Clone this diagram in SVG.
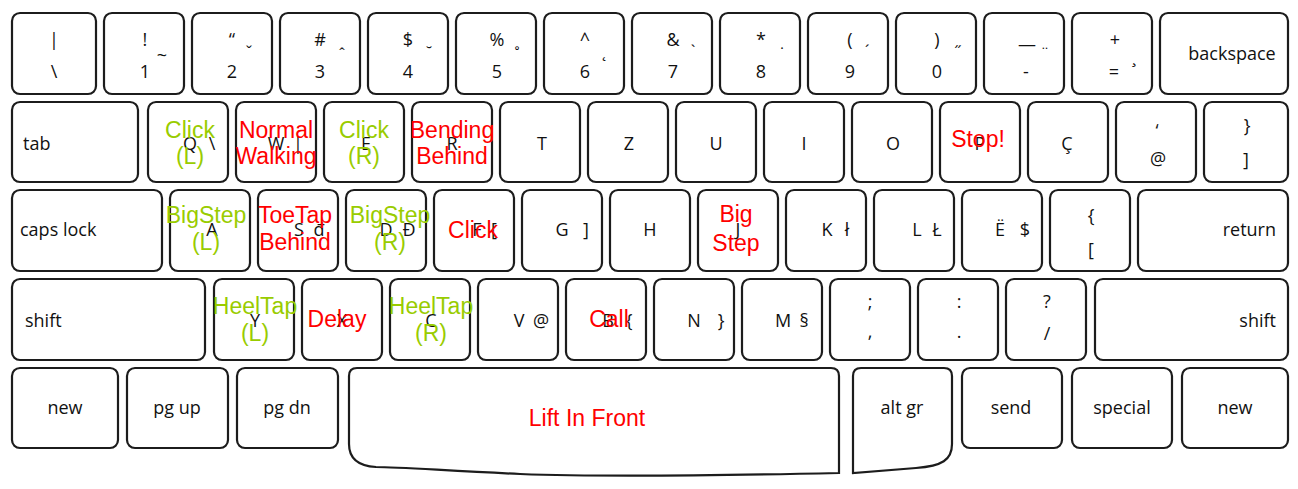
<svg xmlns="http://www.w3.org/2000/svg" width="1298" height="489" viewBox="0 0 1298 489">
<style>
.k{fill:#fff;stroke:#1c1c1c;stroke-width:2.2}
text{font-family:"Open Sans","Noto Sans","DejaVu Sans",sans-serif;font-size:18px;fill:#111;text-anchor:middle}
.l{text-anchor:start}
.e{text-anchor:end}
.d{font-size:17px}
.g,.r{font-family:"Liberation Sans",Arial,sans-serif;font-size:23px}
.g{fill:#99cc00}
.r{fill:#ff0000}
</style>
<rect width="1298" height="489" fill="#fff"/>
<!-- Row 1 -->
<g id="key-backslash"><rect class="k" x="12" y="13" width="84" height="81" rx="8"/><text x="54" y="46">|</text><text x="54" y="78">\</text></g>
<g id="key-1"><rect class="k" x="104" y="13" width="80" height="81" rx="8"/><text x="145" y="46">!</text><text x="145" y="78">1</text><text x="162" y="62">~</text></g>
<g id="key-2"><rect class="k" x="192" y="13" width="80" height="81" rx="8"/><text x="232" y="46">“</text><text x="232" y="78">2</text><text class="d" x="249" y="58">ˇ</text></g>
<g id="key-3"><rect class="k" x="280" y="13" width="80" height="81" rx="8"/><text x="320" y="46">#</text><text x="320" y="78">3</text><text class="d" x="342" y="60">ˆ</text></g>
<g id="key-4"><rect class="k" x="368" y="13" width="80" height="81" rx="8"/><text x="408" y="46">$</text><text x="408" y="78">4</text><text class="d" x="429" y="58">˘</text></g>
<g id="key-5"><rect class="k" x="456" y="13" width="80" height="81" rx="8"/><text x="497" y="46">%</text><text x="497" y="78">5</text><text class="d" x="517" y="60">˚</text></g>
<g id="key-6"><rect class="k" x="544" y="13" width="80" height="81" rx="8"/><text x="585" y="46">^</text><text x="585" y="78">6</text><text class="d" x="604" y="57">˛</text></g>
<g id="key-7"><rect class="k" x="632" y="13" width="80" height="81" rx="8"/><text x="673" y="46">&amp;</text><text x="673" y="78">7</text><text class="d" x="693" y="57">`</text></g>
<g id="key-8"><rect class="k" x="720" y="13" width="80" height="81" rx="8"/><text x="761" y="46">*</text><text x="761" y="78">8</text><text class="d" x="782" y="59">˙</text></g>
<g id="key-9"><rect class="k" x="808" y="13" width="80" height="81" rx="8"/><text x="850" y="46">(</text><text x="850" y="78">9</text><text class="d" x="867" y="57">´</text></g>
<g id="key-0"><rect class="k" x="896" y="13" width="80" height="81" rx="8"/><text x="937" y="46">)</text><text x="937" y="78">0</text><text class="d" x="958" y="58">˝</text></g>
<g id="key-minus"><rect class="k" x="984" y="13" width="80" height="81" rx="8"/><text x="1027" y="51">—</text><text x="1026" y="78">-</text><text class="d" x="1045" y="59">¨</text></g>
<g id="key-equal"><rect class="k" x="1072" y="13" width="80" height="81" rx="8"/><text x="1115" y="46">+</text><text x="1114" y="78">=</text><text class="d" x="1134" y="63">¸</text></g>
<g id="key-backspace"><rect class="k" x="1160" y="13" width="128" height="81" rx="8"/><text x="1232" y="60">backspace</text></g>
<!-- Row 2 -->
<g id="key-tab"><rect class="k" x="12" y="102" width="126" height="80" rx="8"/><text class="l" x="23" y="150">tab</text></g>
<g id="key-Q"><rect class="k" x="148" y="102" width="80" height="80" rx="8"/><text x="190" y="150">Q</text><text x="212" y="150">\</text><text class="g" x="190" y="138">Click</text><text class="g" x="190" y="164">(L)</text></g>
<g id="key-W"><rect class="k" x="236" y="102" width="80" height="80" rx="8"/><text x="276" y="150">W</text><text x="298" y="150">|</text><text class="r" x="276" y="138">Normal</text><text class="r" x="276" y="164">Walking</text></g>
<g id="key-E"><rect class="k" x="324" y="102" width="80" height="80" rx="8"/><text x="366" y="150">E</text><text class="g" x="364" y="138">Click</text><text class="g" x="364" y="164">(R)</text></g>
<g id="key-R"><rect class="k" x="412" y="102" width="80" height="80" rx="8"/><text x="452" y="150">R</text><text class="r" x="452" y="138">Bending</text><text class="r" x="452" y="164">Behind</text></g>
<g id="key-T"><rect class="k" x="500" y="102" width="80" height="80" rx="8"/><text x="542" y="150">T</text></g>
<g id="key-Z"><rect class="k" x="588" y="102" width="80" height="80" rx="8"/><text x="629" y="150">Z</text></g>
<g id="key-U"><rect class="k" x="676" y="102" width="80" height="80" rx="8"/><text x="716" y="150">U</text></g>
<g id="key-I"><rect class="k" x="764" y="102" width="80" height="80" rx="8"/><text x="804" y="150">I</text></g>
<g id="key-O"><rect class="k" x="852" y="102" width="80" height="80" rx="8"/><text x="893" y="150">O</text></g>
<g id="key-P"><rect class="k" x="940" y="102" width="80" height="80" rx="8"/><text x="980" y="150">P</text><text class="r" x="978" y="147">Stop!</text></g>
<g id="key-C-cedilla"><rect class="k" x="1028" y="102" width="80" height="80" rx="8"/><text x="1067" y="150">Ç</text></g>
<g id="key-at"><rect class="k" x="1116" y="102" width="80" height="80" rx="8"/><text x="1157" y="137">‘</text><text x="1158" y="165">@</text></g>
<g id="key-brace-close"><rect class="k" x="1204" y="102" width="84" height="80" rx="8"/><text x="1247" y="132">}</text><text x="1246" y="166">]</text></g>
<!-- Row 3 -->
<g id="key-capslock"><rect class="k" x="12" y="190" width="150" height="81" rx="8"/><text class="l" x="20" y="236">caps lock</text></g>
<g id="key-A"><rect class="k" x="170" y="190" width="80" height="81" rx="8"/><text x="212" y="236">A</text><text class="g" x="206" y="223">BigStep</text><text class="g" x="206" y="250">(L)</text></g>
<g id="key-S"><rect class="k" x="258" y="190" width="80" height="81" rx="8"/><text x="299" y="236">S</text><text x="319" y="236">đ</text><text class="r" x="295" y="223">ToeTap</text><text class="r" x="295" y="250">Behind</text></g>
<g id="key-D"><rect class="k" x="346" y="190" width="80" height="81" rx="8"/><text x="386" y="236">D</text><text x="409" y="236">Đ</text><text class="g" x="390" y="223">BigStep</text><text class="g" x="390" y="250">(R)</text></g>
<g id="key-F"><rect class="k" x="434" y="190" width="80" height="81" rx="8"/><text x="477" y="236">F</text><text x="494" y="236">[</text><text class="r" x="473" y="238">Click</text></g>
<g id="key-G"><rect class="k" x="522" y="190" width="80" height="81" rx="8"/><text x="562" y="236">G</text><text x="586" y="236">]</text></g>
<g id="key-H"><rect class="k" x="610" y="190" width="80" height="81" rx="8"/><text x="650" y="236">H</text></g>
<g id="key-J"><rect class="k" x="698" y="190" width="80" height="81" rx="8"/><text x="738" y="236">J</text><text class="r" x="736" y="222">Big</text><text class="r" x="736" y="251">Step</text></g>
<g id="key-K"><rect class="k" x="786" y="190" width="80" height="81" rx="8"/><text x="827" y="236">K</text><text x="847" y="236">ł</text></g>
<g id="key-L"><rect class="k" x="874" y="190" width="80" height="81" rx="8"/><text x="917" y="236">L</text><text x="937" y="236">Ł</text></g>
<g id="key-E-diaeresis"><rect class="k" x="962" y="190" width="80" height="81" rx="8"/><text x="1000" y="236">Ë</text><text x="1025" y="236">$</text></g>
<g id="key-brace-open"><rect class="k" x="1050" y="190" width="80" height="81" rx="8"/><text x="1091" y="222">{</text><text x="1091" y="256">[</text></g>
<g id="key-return"><rect class="k" x="1138" y="190" width="150" height="81" rx="8"/><text class="e" x="1276" y="236">return</text></g>
<!-- Row 4 -->
<g id="key-shift-left"><rect class="k" x="12" y="279" width="193" height="81" rx="8"/><text class="l" x="25" y="327">shift</text></g>
<g id="key-Y"><rect class="k" x="214" y="279" width="80" height="81" rx="8"/><text x="255" y="327">Y</text><text class="g" x="255" y="314">HeelTap</text><text class="g" x="255" y="341">(L)</text></g>
<g id="key-X"><rect class="k" x="302" y="279" width="80" height="81" rx="8"/><text x="342" y="327">X</text><text class="r" x="337" y="327">Delay</text></g>
<g id="key-C"><rect class="k" x="390" y="279" width="80" height="81" rx="8"/><text x="431" y="327">C</text><text class="g" x="431" y="314">HeelTap</text><text class="g" x="431" y="341">(R)</text></g>
<g id="key-V"><rect class="k" x="478" y="279" width="80" height="81" rx="8"/><text x="519" y="327">V</text><text x="541" y="327">@</text></g>
<g id="key-B"><rect class="k" x="566" y="279" width="80" height="81" rx="8"/><text x="608" y="327">B</text><text x="629" y="327">{</text><text class="r" x="609" y="327">Call</text></g>
<g id="key-N"><rect class="k" x="654" y="279" width="80" height="81" rx="8"/><text x="694" y="327">N</text><text x="721" y="327">}</text></g>
<g id="key-M"><rect class="k" x="742" y="279" width="80" height="81" rx="8"/><text x="783" y="327">M</text><text x="804" y="327">§</text></g>
<g id="key-semicolon"><rect class="k" x="830" y="279" width="80" height="81" rx="8"/><text x="870" y="308">;</text><text x="870" y="338">,</text></g>
<g id="key-colon"><rect class="k" x="918" y="279" width="80" height="81" rx="8"/><text x="959" y="308">:</text><text x="959" y="338">.</text></g>
<g id="key-question"><rect class="k" x="1006" y="279" width="80" height="81" rx="8"/><text x="1047" y="308">?</text><text x="1047" y="340">/</text></g>
<g id="key-shift-right"><rect class="k" x="1095" y="279" width="193" height="81" rx="8"/><text class="e" x="1276" y="327">shift</text></g>
<!-- Row 5 -->
<g id="key-new-left"><rect class="k" x="12" y="368" width="106" height="80" rx="8"/><text x="65" y="414">new</text></g>
<g id="key-pgup"><rect class="k" x="127" y="368" width="101" height="80" rx="8"/><text x="177" y="414">pg up</text></g>
<g id="key-pgdn"><rect class="k" x="237" y="368" width="101" height="80" rx="8"/><text x="287" y="414">pg dn</text></g>
<g id="key-space"><path class="k" d="M357,368 H831 Q839,368 839,376 V473 C700,476 600,477 520,474 C450,471 400,467 376,467 C358,466 349,458 349,444 V376 Q349,368 357,368 Z"/><text class="r" x="587" y="426">Lift In Front</text></g>
<g id="key-altgr"><path class="k" d="M861,368 H944 Q952,368 952,376 V444 C952,460 942,466 916,468 L853,473 V376 Q853,368 861,368 Z"/><text x="902" y="414">alt gr</text></g>
<g id="key-send"><rect class="k" x="962" y="368" width="100" height="80" rx="8"/><text x="1011" y="414">send</text></g>
<g id="key-special"><rect class="k" x="1072" y="368" width="100" height="80" rx="8"/><text x="1122" y="414">special</text></g>
<g id="key-new-right"><rect class="k" x="1182" y="368" width="106" height="80" rx="8"/><text x="1235" y="414">new</text></g>
</svg>
